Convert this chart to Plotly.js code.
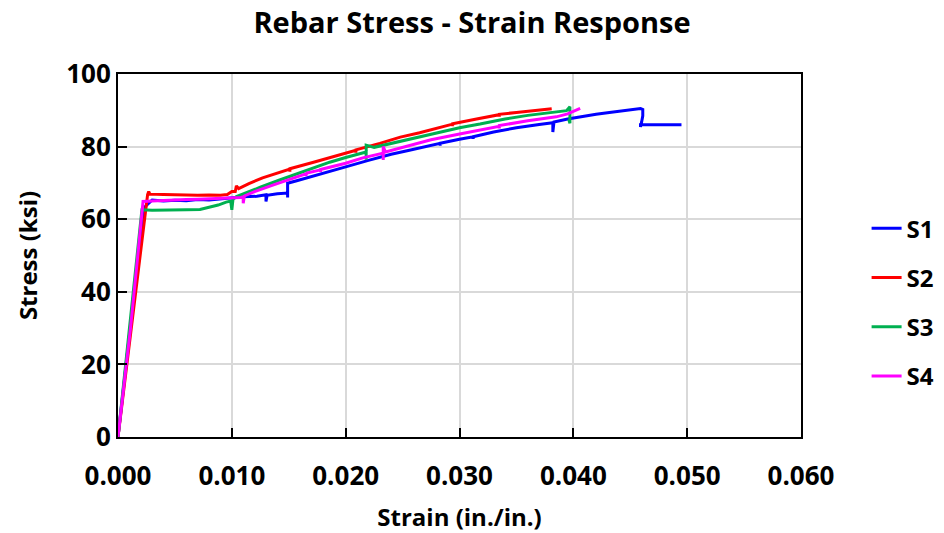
<!DOCTYPE html>
<html>
<head>
<meta charset="utf-8">
<script src="https://cdn.plot.ly/plotly-3.0.1.min.js"></script>
<style>html,body{margin:0;padding:0;background:#fff;}#chart{width:944px;height:533px;}</style>
</head>
<body>
<div id="chart"></div>
<script>
const seriesNames = ["S1", "S2", "S3", "S4"];
const seriesColors = ["#0000FF", "#FF0000", "#00B050", "#FF00FF"];

const s1Strain = [0, 0.0012, 0.0020, 0.0024, 0.0030, 0.0040, 0.0050, 0.0060, 0.0070, 0.0080, 0.0090, 0.0100, 0.0110, 0.0122, 0.0130, 0.0130, 0.0131, 0.0140, 0.0149, 0.0149, 0.0149, 0.0157, 0.0170, 0.0185, 0.0200, 0.0220, 0.0240, 0.0256, 0.0270, 0.0283, 0.0283, 0.0283, 0.0300, 0.0312, 0.0312, 0.0312, 0.0330, 0.0350, 0.0370, 0.0382, 0.0382, 0.0383, 0.0395, 0.0406, 0.0420, 0.0430, 0.0445, 0.0459, 0.0461, 0.0461, 0.0460, 0.0459, 0.0459, 0.0470, 0.0485, 0.0495];
const s1Stress = [0, 33, 56, 63.5, 65.3, 65.0, 65.2, 65.1, 65.4, 65.3, 65.6, 66.0, 66.2, 66.3, 66.7, 64.9, 66.6, 67.0, 67.2, 66.0, 69.9, 70.6, 71.8, 73.2, 74.4, 76.2, 77.9, 79.0, 80.0, 80.9, 80.2, 80.9, 82.0, 82.7, 82.1, 82.7, 84.0, 85.2, 86.1, 86.6, 84.0, 86.8, 87.6, 88.2, 88.9, 89.3, 89.9, 90.5, 90.2, 88.5, 86.8, 85.4, 86.0, 86.0, 86.0, 86.0];

const s2Strain = [0, 0.0012, 0.0020, 0.0024, 0.0026, 0.0027, 0.0028, 0.0040, 0.0050, 0.0060, 0.0070, 0.0080, 0.0090, 0.0096, 0.0100, 0.0103, 0.0104, 0.0106, 0.0115, 0.0127, 0.0140, 0.0151, 0.0151, 0.0151, 0.0171, 0.0186, 0.0200, 0.0209, 0.0209, 0.0209, 0.0230, 0.0248, 0.0265, 0.0280, 0.0294, 0.0294, 0.0294, 0.0315, 0.0335, 0.0335, 0.0335, 0.0350, 0.0365, 0.0381];
const s2Stress = [0, 31, 52, 62, 66.8, 67.6, 66.9, 66.8, 66.7, 66.8, 66.6, 66.7, 66.6, 66.8, 67.6, 67.6, 69.2, 68.4, 69.8, 71.4, 72.7, 73.8, 73.1, 73.9, 75.6, 76.9, 78.2, 79.0, 78.3, 79.1, 80.9, 82.6, 83.8, 85.0, 86.2, 85.6, 86.3, 87.6, 88.8, 88.2, 88.9, 89.4, 89.9, 90.4];

const s3Strain = [0, 0.0010, 0.0016, 0.0020, 0.0021, 0.0030, 0.0040, 0.0050, 0.0060, 0.0072, 0.0080, 0.0088, 0.0095, 0.0099, 0.0100, 0.0101, 0.0104, 0.0113, 0.0125, 0.0142, 0.0165, 0.0186, 0.0200, 0.0218, 0.0218, 0.0218, 0.0225, 0.0240, 0.0256, 0.0275, 0.0300, 0.0318, 0.0340, 0.0360, 0.0380, 0.0394, 0.0397, 0.0397, 0.0396];
const s3Stress = [0, 30, 48, 60.5, 62.6, 62.5, 62.6, 62.5, 62.6, 62.7, 63.2, 63.9, 64.7, 65.0, 62.6, 65.5, 66.2, 67.4, 68.8, 70.8, 73.4, 75.7, 77.0, 78.5, 76.4, 80.4, 79.8, 80.9, 81.9, 83.4, 85.2, 86.2, 87.6, 88.6, 89.4, 89.9, 91.0, 86.4, 87.5];

const s4Strain = [0, 0.0011, 0.0018, 0.0021, 0.0022, 0.0030, 0.0040, 0.0050, 0.0060, 0.0070, 0.0080, 0.0090, 0.0100, 0.0108, 0.0110, 0.0110, 0.0111, 0.0120, 0.0136, 0.0150, 0.0165, 0.0165, 0.0166, 0.0178, 0.0178, 0.0178, 0.0200, 0.0215, 0.0233, 0.0233, 0.0233, 0.0235, 0.0256, 0.0275, 0.0299, 0.0320, 0.0335, 0.0335, 0.0335, 0.0360, 0.0385, 0.0395, 0.0406];
const s4Stress = [0, 30, 52, 62, 64.9, 65.0, 65.2, 65.3, 65.4, 65.5, 65.6, 65.7, 65.8, 66.0, 66.2, 64.4, 66.4, 67.6, 69.4, 70.8, 72.5, 72.0, 72.7, 73.6, 73.0, 73.7, 75.4, 76.9, 78.2, 76.3, 80.0, 78.5, 80.3, 81.9, 83.4, 84.8, 85.6, 85.0, 85.8, 87.1, 88.2, 89.0, 90.5];

const xTickVals = [0, 0.01, 0.02, 0.03, 0.04, 0.05, 0.06];
const xTickText = ["0.000", "0.010", "0.020", "0.030", "0.040", "0.050", "0.060"];
const yTickVals = [0, 20, 40, 60, 80, 100];

const allX = [s1Strain, s2Strain, s3Strain, s4Strain];
const allY = [s1Stress, s2Stress, s3Stress, s4Stress];

const traces = seriesNames.map((n, i) => ({
  type: "scatter",
  mode: "lines",
  name: n,
  legendgroup: n,
  x: allX[i],
  y: allY[i],
  line: {color: seriesColors[i], width: 3},
  hoverinfo: "x+y+name"
}));

const FONT = "Open Sans, DejaVu Sans, sans-serif";

const layout = {
  width: 944,
  height: 533,
  margin: {l: 118, r: 143, t: 74, b: 96},
  paper_bgcolor: "#ffffff",
  plot_bgcolor: "#ffffff",
  font: {family: FONT, color: "#000000"},
  title: {
    text: "Rebar Stress - Strain Response",
    font: {family: FONT, size: 29, weight: "bold", color: "#000000"},
    x: 0.5, xanchor: "center", y: 0.958, yanchor: "middle"
  },
  xaxis: {
    range: [0, 0.06],
    tickvals: xTickVals,
    ticktext: xTickText,
    ticks: "inside",
    ticklen: 9,
    tickwidth: 2,
    tickcolor: "#000000",
    showline: true,
    linecolor: "#000000",
    linewidth: 2,
    mirror: true,
    showgrid: true,
    gridcolor: "#d9d9d9",
    gridwidth: 1.5,
    zeroline: false,
    ticklabelstandoff: 15,
    tickfont: {family: FONT, size: 26, weight: "bold", color: "#000000"},
    title: {text: "Strain (in./in.)", font: {family: FONT, size: 24, weight: "bold", color: "#000000"}, standoff: 18}
  },
  yaxis: {
    range: [0, 100],
    tickvals: yTickVals,
    ticks: "inside",
    ticklen: 9,
    tickwidth: 2,
    tickcolor: "#000000",
    showline: true,
    linecolor: "#000000",
    linewidth: 2,
    mirror: true,
    showgrid: true,
    gridcolor: "#d9d9d9",
    gridwidth: 1.5,
    zeroline: false,
    tickfont: {family: FONT, size: 26, weight: "bold", color: "#000000"},
    title: {text: "Stress (ksi)", font: {family: FONT, size: 24, weight: "bold", color: "#000000"}, standoff: 22}
  },
  legend: {
    xref: "container", yref: "container",
    x: 0.918, xanchor: "left",
    y: 0.613, yanchor: "top",
    font: {family: FONT, size: 24, weight: "bold", color: "#000000"},
    tracegroupgap: 15,
    bgcolor: "rgba(0,0,0,0)",
    itemwidth: 30
  },
  showlegend: true
};

Plotly.newPlot("chart", traces, layout, {displayModeBar: false, staticPlot: false});
</script>
</body>
</html>
